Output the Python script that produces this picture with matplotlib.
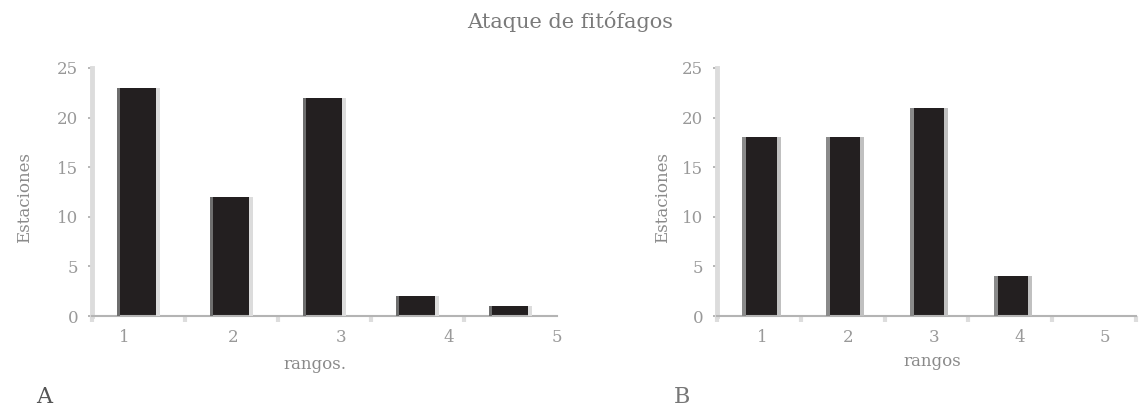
import numpy as np
import matplotlib.pyplot as plt

# valores
rangos = ['1', '2', '3', '4', '5']
estaciones_a = [23, 12, 22, 2, 1]
estaciones_b = [18, 18, 21, 4, 0]
y_ticks = [0, 5, 10, 15, 20, 25]

plt.rcParams['font.family'] = ['DejaVu Serif']

fig = plt.figure(figsize=(11.4, 4.11), dpi=100)
ax_a = fig.add_axes([92 / 1140, 95 / 411, 465 / 1140, 248 / 411])
ax_b = fig.add_axes([717 / 1140, 95 / 411, 419 / 1140, 248 / 411])


def draw_panel(ax, values, edge_left, edge_right, strip_l, strip_r, shift,
               label_pos, xlabel, xlabel_pos, ylabel_x):
    x = np.arange(len(values)) + shift
    width = 0.46
    # cuerpo oscuro + bordes grises (efecto de la figura escaneada)
    ax.bar(x, values, width, color='#231f20', zorder=2)
    ax.bar(x - width / 2, values, strip_l, align='edge', color=edge_left, zorder=3)
    ax.bar(x + width / 2 - strip_r, values, strip_r, align='edge',
           color=edge_right, zorder=3)

    ax.set_xlim(-0.5, len(values) - 0.5)
    ax.set_ylim(0, 25)

    for s in ['top', 'right']:
        ax.spines[s].set_visible(False)
    ax.spines['left'].set_color('#dcdcdc')
    ax.spines['left'].set_linewidth(3.5)
    ax.spines['bottom'].set_color('#b4b4b4')
    ax.spines['bottom'].set_linewidth(1.5)

    ax.set_yticks(y_ticks)
    ax.tick_params(axis='y', length=3, width=1.2, color='#aaaaaa',
                   labelcolor='#999999', labelsize=12, pad=7)

    ax.set_xticks(label_pos)
    ax.set_xticklabels(rangos)
    ax.set_xticks(np.arange(len(values) + 1) - 0.5, minor=True)
    ax.tick_params(axis='x', which='major', length=0, pad=9,
                   labelcolor='#999999', labelsize=12)
    ax.tick_params(axis='x', which='minor', length=4, width=3, color='#dddddd')

    ax.text(xlabel_pos[0], xlabel_pos[1], xlabel, transform=ax.transAxes,
            ha='center', va='center', fontsize=12, color='#8a8a8a')
    ax.set_ylabel('Estaciones', fontsize=12, color='#8a8a8a')
    ax.yaxis.set_label_coords(ylabel_x, 0.476)


draw_panel(ax_a, estaciones_a, '#6e6e6e', '#dcdcdc', 0.036, 0.043, 0.0,
           np.linspace(-0.15, 4.5, 5), 'rangos.', (0.48, -0.194), -0.127)
draw_panel(ax_b, estaciones_b, '#8a8a8a', '#c0c0c0', 0.052, 0.048, 0.03,
           np.linspace(0.04, 4.13, 5), 'rangos', (0.515, -0.185), -0.11)

fig.text(0.5, 1 - 22 / 411, 'Ataque de fitófagos', ha='center', va='center',
         fontsize=15, color='#7a7a7a')
fig.text(44 / 1140, 1 - 397 / 411, 'A', ha='center', va='center',
         fontsize=16, color='#555555')
fig.text(682 / 1140, 1 - 397 / 411, 'B', ha='center', va='center',
         fontsize=16, color='#777777')

fig.savefig('out.png', dpi=100)
